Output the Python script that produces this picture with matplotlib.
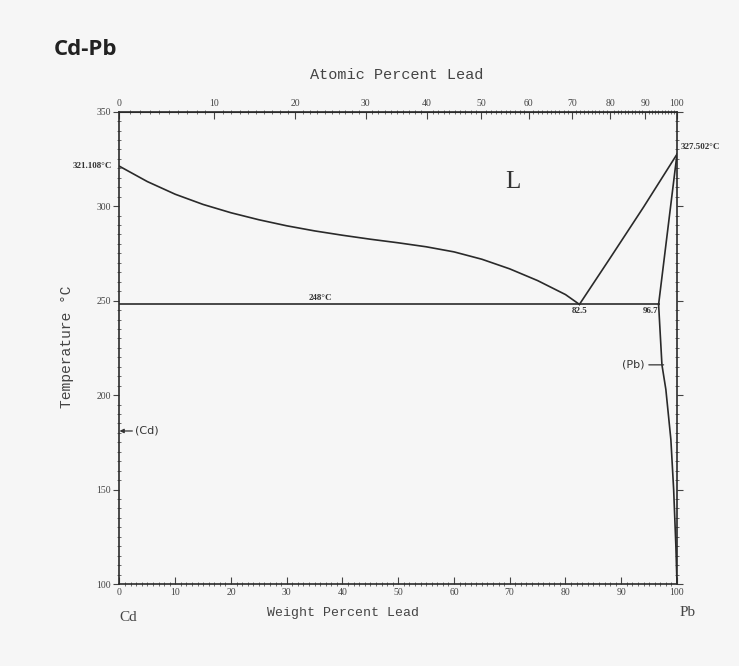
import numpy as np
import matplotlib
matplotlib.use("Agg")
import matplotlib.pyplot as plt
from matplotlib.ticker import MultipleLocator, FixedLocator

# --- data (weight % Pb, temperature in degC) ---
cd_liq_wt = [0, 5, 10, 15, 20, 25, 30, 35, 40, 45, 50, 55, 60, 65, 70, 75, 80, 82.5]
cd_liq_T = [321.108, 313.0, 306.3, 300.9, 296.5, 292.8, 289.6, 286.9, 284.6, 282.5,
            280.6, 278.5, 275.8, 271.9, 266.8, 260.6, 253.2, 248]

pb_liq_wt = [82.5, 88, 94, 100]
pb_liq_T = [248, 272.5, 299.5, 327.502]

solidus_wt = [96.7, 100]
solidus_T = [248, 327.502]

solvus_wt = [96.7, 97.3, 98.0, 98.9, 99.4, 99.8, 100]
solvus_T = [248, 216, 203, 176.5, 150, 120, 100]

eutectic_wt = [0, 96.7]
eutectic_T = [248, 248]

at_ticks = list(range(0, 101, 10))

M_PB, M_CD = 207.2, 112.41


def wt_to_at(w):
    w = np.clip(np.asarray(w, dtype=float), 0, 100)
    a = w / M_PB
    b = (100 - w) / M_CD
    return 100 * a / np.where(a + b == 0, 1, a + b)


def at_to_wt(a):
    a = np.clip(np.asarray(a, dtype=float), 0, 100)
    x = a * M_PB
    y = (100 - a) * M_CD
    return 100 * x / np.where(x + y == 0, 1, x + y)


line_kw = dict(color="#2a2a2a", lw=1.2)
bg = "#f6f6f6"

fig = plt.figure(figsize=(7.39, 6.66), dpi=100, facecolor=bg)
ax = fig.add_axes([0.1617, 0.1231, 0.7544, 0.7092], facecolor=bg)

ax.plot(cd_liq_wt, cd_liq_T, **line_kw)
ax.plot(pb_liq_wt, pb_liq_T, **line_kw)
ax.plot(solidus_wt, solidus_T, **line_kw)
ax.plot(solvus_wt, solvus_T, **line_kw)
ax.plot(eutectic_wt, eutectic_T, **line_kw)

ax.set_xlim(0, 100)
ax.set_ylim(100, 350)

for s in ax.spines.values():
    s.set_color("#2a2a2a")
    s.set_linewidth(1.2)

ax.xaxis.set_major_locator(MultipleLocator(10))
ax.xaxis.set_minor_locator(MultipleLocator(1))
ax.yaxis.set_major_locator(MultipleLocator(50))
ax.yaxis.set_minor_locator(MultipleLocator(5))
ax.tick_params(axis="x", which="major", direction="in", length=5, width=0.8,
               color="#444444", pad=3, labelsize=7, labelcolor="#444444")
ax.tick_params(axis="x", which="minor", direction="inout", length=3, width=0.6, color="#555555")
ax.tick_params(axis="y", which="major", direction="out", length=4, width=0.8,
               color="#444444", pad=2, labelsize=7, labelcolor="#444444",
               right=True)
ax.tick_params(axis="y", which="minor", direction="inout", length=3, width=0.6,
               color="#555555", right=True)
for lab in ax.get_xticklabels() + ax.get_yticklabels():
    lab.set_family("Liberation Serif")

# top axis: atomic percent
top = ax.secondary_xaxis("top", functions=(wt_to_at, at_to_wt))
top.xaxis.set_major_locator(FixedLocator(at_ticks))
top.xaxis.set_minor_locator(FixedLocator(list(range(0, 101))))
top.tick_params(which="major", direction="in", length=5, width=0.8, color="#444444",
                pad=3, labelsize=7, labelcolor="#444444")
top.tick_params(which="minor", direction="inout", length=3, width=0.6, color="#555555")
top.spines["top"].set_color("#2a2a2a")
for lab in top.get_xticklabels():
    lab.set_family("Liberation Serif")

# axis titles
fig.text(0.537, 0.887, "Atomic Percent Lead", family="Liberation Mono", size=11,
         color="#444444", ha="center", va="center")
fig.text(0.464, 0.080, "Weight Percent Lead", family="Liberation Mono", size=9.5,
         color="#444444", ha="center", va="center")
fig.text(0.091, 0.48, "Temperature \u00b0C", family="Liberation Mono", size=10.5,
         color="#444444", ha="center", va="center", rotation=90)
fig.text(0.173, 0.073, "Cd", family="Liberation Serif", size=11, color="#444444",
         ha="center", va="center")
fig.text(0.930, 0.080, "Pb", family="Liberation Serif", size=11, color="#444444",
         ha="center", va="center")
fig.text(0.073, 0.917, "Cd-Pb", family="Open Sans", weight="bold", size=16,
         color="#222222", ha="left", va="baseline")

# labels inside the diagram
small = dict(family="Liberation Serif", size=6.5, color="#333333", weight="bold")
ax.text(70.6, 312.8, "L", family="Liberation Serif", size=18, color="#333333",
        ha="center", va="center")
ax.text(36, 249.2, "248\u00b0C", ha="center", va="bottom", **small)
ax.text(82.5, 246.5, "82.5", ha="center", va="top", **small)
ax.text(96.6, 246.5, "96.7", ha="right", va="top", **small)
ax.annotate("321.108\u00b0C", xy=(0, cd_liq_T[0]), xytext=(-5, 0),
            textcoords="offset points", ha="right", va="center", **small)
ax.annotate("327.502\u00b0C", xy=(100, pb_liq_T[-1]), xytext=(3, 5),
            textcoords="offset points", ha="left", va="center", **small)

phase_font = dict(family="DejaVu Sans", size=8, color="#333333")
ax.annotate("(Cd)", xy=(0, 181), xytext=(2.8, 181), ha="left", va="center",
            arrowprops=dict(arrowstyle="-|>", color="#333333", lw=0.9,
                            mutation_scale=6, shrinkA=0, shrinkB=0),
            **phase_font)
pb_x = float(np.interp(216, solvus_T[::-1], solvus_wt[::-1]))
ax.annotate("(Pb)", xy=(pb_x + 0.3, 216), xytext=(94.2, 216), ha="right", va="center",
            arrowprops=dict(arrowstyle="-", color="#333333", lw=0.9,
                            shrinkA=1, shrinkB=0),
            **phase_font)

fig.savefig("out.png", dpi=100, facecolor=bg)
